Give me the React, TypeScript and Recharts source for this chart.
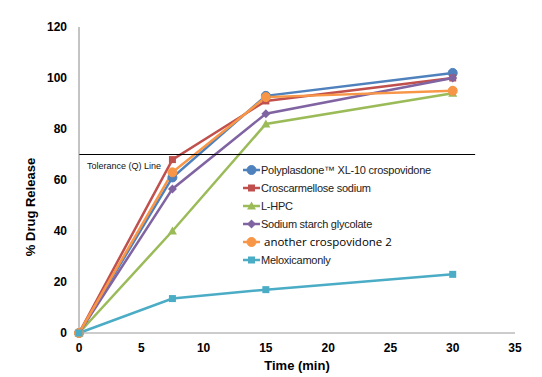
import React from 'react';
import { LineChart, Line, XAxis, YAxis, ReferenceLine } from 'recharts';

const times = [0, 7.5, 15, 30];
const polyplasdone = [0, 61, 93, 102];
const croscarmellose = [0, 68, 91, 100];
const lhpc = [0, 40, 82, 94];
const ssg = [0, 56.5, 86, 100];
const crospovidone2 = [0, 63, 92.5, 95];
const meloxicam = [0, 13.5, 17, 23];
const xTicks = [0, 5, 10, 15, 20, 25, 30, 35];
const yTicks = [0, 20, 40, 60, 80, 100, 120];
const tolerance = 70;
const toleranceEnd = 31.8;

const data = times.map((t, i) => ({
  t,
  poly: polyplasdone[i],
  cros: croscarmellose[i],
  lhpc: lhpc[i],
  ssg: ssg[i],
  cp2: crospovidone2[i],
  melox: meloxicam[i],
}));

type Shape = 'circle' | 'square' | 'triangle' | 'diamond';

const series: { key: string; name: string; color: string; shape: Shape; font?: string; fontSize?: number }[] = [
  { key: 'poly', name: 'Polyplasdone™ XL-10 crospovidone', color: '#4F81BD', shape: 'circle' },
  { key: 'cros', name: 'Croscarmellose sodium', color: '#C0504D', shape: 'square' },
  { key: 'lhpc', name: 'L-HPC', color: '#9BBB59', shape: 'triangle' },
  { key: 'ssg', name: 'Sodium starch glycolate', color: '#8064A2', shape: 'diamond' },
  { key: 'cp2', name: ' another crospovidone 2', color: '#F79646', shape: 'circle', font: 'Open Sans, sans-serif', fontSize: 11.5 },
  { key: 'melox', name: 'Meloxicamonly', color: '#4BACC6', shape: 'square' },
];

function marker(shape: Shape, color: string, cx: number, cy: number, k?: string) {
  switch (shape) {
    case 'circle':
      return <circle key={k} cx={cx} cy={cy} r={4.5} fill={color} stroke={color} />;
    case 'square':
      return <rect key={k} x={cx - 3.5} y={cy - 3.5} width={7} height={7} fill={color} />;
    case 'triangle':
      return <polygon key={k} points={`${cx},${cy - 4.5} ${cx + 4.5},${cy + 3.5} ${cx - 4.5},${cy + 3.5}`} fill={color} />;
    case 'diamond':
      return <polygon key={k} points={`${cx},${cy - 4.5} ${cx + 4.5},${cy} ${cx},${cy + 4.5} ${cx - 4.5},${cy}`} fill={color} />;
  }
}

const makeDot = (shape: Shape, color: string) => (props: any) => {
  const { cx, cy, index } = props;
  if (cx == null || cy == null) return <g key={index} />;
  return marker(shape, color, cx, cy, String(index)) as any;
};

const LegendBox = () => (
  <div
    style={{
      position: 'absolute',
      left: 243,
      top: 161,
      width: 200,
      background: '#fff',
      fontFamily: 'Liberation Sans, Arial, sans-serif',
    }}
  >
    {series.map((s) => (
      <div key={s.key} style={{ display: 'flex', alignItems: 'center', height: 18 }}>
        <svg width={18} height={12} style={{ flex: 'none' }}>
          <line x1={0} y1={6} x2={17} y2={6} stroke={s.color} strokeWidth={2.5} />
          {marker(s.shape, s.color, 8.5, 6)}
        </svg>
        <span
          style={{
            fontSize: s.fontSize ?? 11,
            fontFamily: s.font ?? 'Liberation Sans, Arial, sans-serif',
            color: s.font ? '#000' : '#222',
            letterSpacing: s.font ? 0 : -0.25,
            whiteSpace: 'pre',
            lineHeight: '18px',
          }}
        >
          {s.name}
        </span>
      </div>
    ))}
  </div>
);

export default function App() {
  return (
    <div style={{ position: 'absolute', left: 0, top: 0, width: 542, height: 377, background: '#fff' }}>
      <LineChart
        width={542}
        height={377}
        data={data}
        margin={{ top: 27, right: 27, bottom: 14, left: 0 }}
        style={{ fontFamily: 'Liberation Sans, Arial, sans-serif' }}
      >
        <XAxis
          dataKey="t"
          type="number"
          domain={[0, 35]}
          ticks={xTicks}
          height={30}
          tickLine={false}
          tickSize={0}
          tickMargin={10}
          stroke="#999"
          tick={{ fill: '#000', fontSize: 12, fontWeight: 'bold' }}
          label={{
            content: (p: any) => (
              <text
                x={p.viewBox.x + p.viewBox.width / 2}
                y={365}
                textAnchor="middle"
                dominantBaseline="central"
                fontSize={13}
                fontWeight="bold"
                fill="#000"
              >
                Time (min)
              </text>
            ),
          }}
        />
        <YAxis
          type="number"
          domain={[0, 120]}
          ticks={yTicks}
          width={79}
          tickLine={false}
          tickSize={0}
          tickMargin={12}
          stroke="#888"
          tick={{ fill: '#000', fontSize: 12, fontWeight: 'bold' }}
          label={{
            content: () => (
              <text
                x={30}
                y={207}
                transform="rotate(-90 30 207)"
                textAnchor="middle"
                dominantBaseline="central"
                fontSize={13}
                fontWeight="bold"
                fill="#000"
              >
                % Drug Release
              </text>
            ),
          }}
        />
        {series.map((s) => (
          <Line
            key={s.key}
            dataKey={s.key}
            name={s.name}
            stroke={s.color}
            strokeWidth={2.5}
            dot={makeDot(s.shape, s.color)}
            activeDot={false}
            isAnimationActive={false}
            type="linear"
          />
        ))}
        <ReferenceLine
          segment={[
            { x: 0, y: tolerance },
            { x: toleranceEnd, y: tolerance },
          ]}
          stroke="#000"
          strokeWidth={1}
          label={{
            content: (p: any) => (
              <text x={(p.viewBox?.x ?? 79) + 8} y={(p.viewBox?.y ?? 155) + 11} fontSize={9} fill="#111" dominantBaseline="central">
                Tolerance (Q) Line
              </text>
            ),
          }}
        />
      </LineChart>
      <LegendBox />
    </div>
  );
}
